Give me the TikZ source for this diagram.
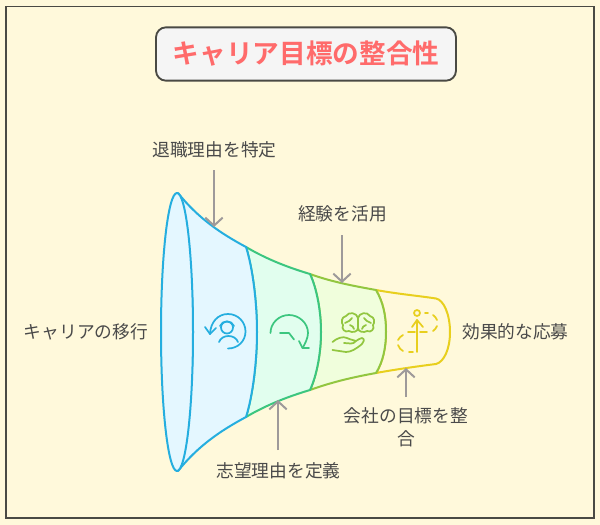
\documentclass[tikz,border=0pt]{standalone}
\usepackage{fontspec}
\setmainfont[BoldFont={Noto Sans CJK JP Bold}]{Noto Sans CJK JP}
\usetikzlibrary{arrows.meta}
\definecolor{bgc}{HTML}{FFF9DB}
\definecolor{framec}{HTML}{4A4A44}
\definecolor{titlec}{HTML}{FF6B6B}
\definecolor{boxc}{HTML}{F5F5F5}
\definecolor{txtc}{HTML}{4A4A4A}
\definecolor{arrc}{HTML}{9E9A9A}
\definecolor{bluec}{HTML}{25AEDF}
\definecolor{bluef}{HTML}{E4F7FF}
\definecolor{greenc}{HTML}{3CC67F}
\definecolor{greenf}{HTML}{E1FEEE}
\definecolor{limec}{HTML}{92C640}
\definecolor{limef}{HTML}{F0FEDC}
\definecolor{yelc}{HTML}{E8CF1E}
\tikzset{
  x=0.75pt,y=-0.75pt,
  lab/.style={font=\fontsize{13.3pt}{17pt}\selectfont,text=txtc,inner sep=0pt,align=center},
  callout/.style={draw=arrc,line width=1.5pt,-{Straight Barb[length=6pt,width=13pt,line width=1.5pt]}},
  seg/.style={line width=1.5pt,line join=round},
  ico/.style={line width=1.3pt,line cap=round,line join=round,fill=none}
}
\begin{document}
\begin{tikzpicture}
\useasboundingbox (0,0) rectangle (600,525);
\fill[bgc] (0,0) rectangle (600,525);
\draw[framec,line width=0.9pt] (6,6.5) rectangle (594,518);
% title
\node[draw=framec,fill=boxc,line width=1.4pt,rounded corners=7.5pt,minimum width=225pt,minimum height=40pt,inner sep=0pt,text=titlec,font=\fontsize{20pt}{24pt}\selectfont\bfseries] (title) at (306,54) {キャリア目標の整合性};
% yellow
\draw[seg,draw=yelc,fill=bgc] (376,290) .. controls (398,294) and (420,296) .. (436,298.5) .. controls (444,300) and (450,315) .. (450,332) .. controls (450,349) and (444,362) .. (436,364) .. controls (420,366) and (398,369) .. (376,373) .. controls (383,362) and (386,347) .. (386,332) .. controls (386,315) and (383,302) .. (376,290) -- cycle;
% lime
\draw[seg,draw=limec,fill=limef] (310,274) .. controls (332,282) and (354,286) .. (376,290) .. controls (383,302) and (386,315) .. (386,332) .. controls (386,347) and (383,362) .. (376,373) .. controls (354,377) and (332,382) .. (310,390) .. controls (317,375) and (321,352) .. (321,332) .. controls (321,312) and (317,289) .. (310,274) -- cycle;
% green
\draw[seg,draw=greenc,fill=greenf] (246,247) .. controls (268,260) and (290,268) .. (310,274) .. controls (317,289) and (321,312) .. (321,332) .. controls (321,352) and (317,375) .. (310,390) .. controls (290,396) and (268,404) .. (246,417) .. controls (253,395) and (257,360) .. (257,332) .. controls (257,304) and (253,269) .. (246,247) -- cycle;
% blue
\draw[seg,draw=bluec,fill=bluef] (178,193) .. controls (198,218) and (220,233) .. (246,247) .. controls (253,269) and (257,304) .. (257,332) .. controls (257,360) and (253,395) .. (246,417) .. controls (220,431) and (198,446) .. (178,471) .. controls (188,430) and (193,380) .. (193,332) .. controls (193,284) and (188,234) .. (178,193) -- cycle;
\draw[seg,draw=bluec,fill=bluef] (177,332) ellipse [x radius=16,y radius=139];
% blue icon
\begin{scope}[ico,draw=bluec]
\draw (228,348.5) .. controls (238,348.5) and (245.5,341) .. (245.5,331.5) .. controls (245.5,322) and (238,314) .. (228,314) .. controls (218,314) and (210.5,322) .. (210,334);
\draw (205,327) -- (210,334) -- (216,328);
\draw (227,327.5) circle [radius=6];
\draw (220,326) .. controls (222,320) and (232,320) .. (234,326);
\draw (219,342) .. controls (222,334) and (235,334) .. (238,342);
\end{scope}
% green icon
\begin{scope}[ico,draw=greenc]
\draw (270.5,333) .. controls (270.5,323) and (279,315) .. (289,315) .. controls (299,315) and (308,323) .. (308,333) .. controls (308,338) and (305,344) .. (302.5,348);
\draw (299,341) -- (302.5,348) -- (309,348);
\draw (280,333) -- (289,333) -- (294,339.5);
\end{scope}
% lime icon
\begin{scope}[ico,draw=limec]
\draw (358,318) .. controls (357,313) and (349,311) .. (346,316) .. controls (341,317) and (341,323) .. (343,325) .. controls (341,329) and (345,333) .. (349,331) .. controls (352,333) and (358,332) .. (358,328);
\draw (358,318) .. controls (359,313) and (367,311) .. (370,316) .. controls (375,317) and (375,323) .. (373,325) .. controls (375,329) and (371,333) .. (367,331) .. controls (364,333) and (358,332) .. (358,328);
\draw (358,318) -- (358,328);
\draw (345,323) .. controls (348,321) and (351,321) .. (352,318);
\draw (350,325) .. controls (352,326) and (354,327) .. (354,329);
\draw (371,323) .. controls (368,321) and (365,321) .. (364,318);
\draw (366,325) .. controls (364,326) and (362,327) .. (362,329);
\draw (332.5,342) .. controls (337,338) and (343,336) .. (347,338) .. controls (351,340) and (354,340) .. (356,341) .. controls (353,345) and (349,343) .. (344,343);
\draw (356,341) .. controls (358,340) and (360,338) .. (362,338) .. controls (365,339) and (364,342) .. (362,344) .. controls (356,349) and (351,352) .. (346,352) -- (332.5,350);
\end{scope}
% yellow icon
\begin{scope}[ico,draw=yelc]
\draw (417,313) circle [radius=3];
\draw (417,352) -- (417,320);
\draw (412,327) -- (417,320) -- (423,327);
\draw (425,313) -- (428,313);
\draw (433,315) .. controls (435,316) and (436,318) .. (437,320);
\draw (437,326) .. controls (436,328) and (435,330) .. (433,331);
\draw (408,332) -- (415,332);
\draw (420,332) -- (427,332);
\draw (403,335) .. controls (401,336) and (399,338) .. (398,340);
\draw (398,345) .. controls (399,348) and (401,350) .. (403,351);
\draw (409,352) -- (413,352);
\end{scope}
% labels
\node[lab] (a) at (214.5,150) {退職理由を特定};
\node[lab] (b) at (342.5,214) {経験を活用};
\node[lab] (c) at (86,331.5) {キャリアの移行};
\node[lab] (d) at (515.5,331.5) {効果的な応募};
\node[lab] (e) at (278.5,471) {志望理由を定義};
\node[lab] (f) at (406,427.5) {会社の目標を整\\合};
% connectors
\coordinate (atail) at (214,170);
\coordinate (atip) at (214,227);
\coordinate (btail) at (342,235);
\coordinate (btip) at (342,283);
\coordinate (etail) at (278,450);
\coordinate (etip) at (278,400);
\coordinate (ftail) at (406,397);
\coordinate (ftip) at (406,368);
\draw[callout] (atail) -- (atip);
\draw[callout] (btail) -- (btip);
\draw[callout] (etail) -- (etip);
\draw[callout] (ftail) -- (ftip);
\end{tikzpicture}
\end{document}
